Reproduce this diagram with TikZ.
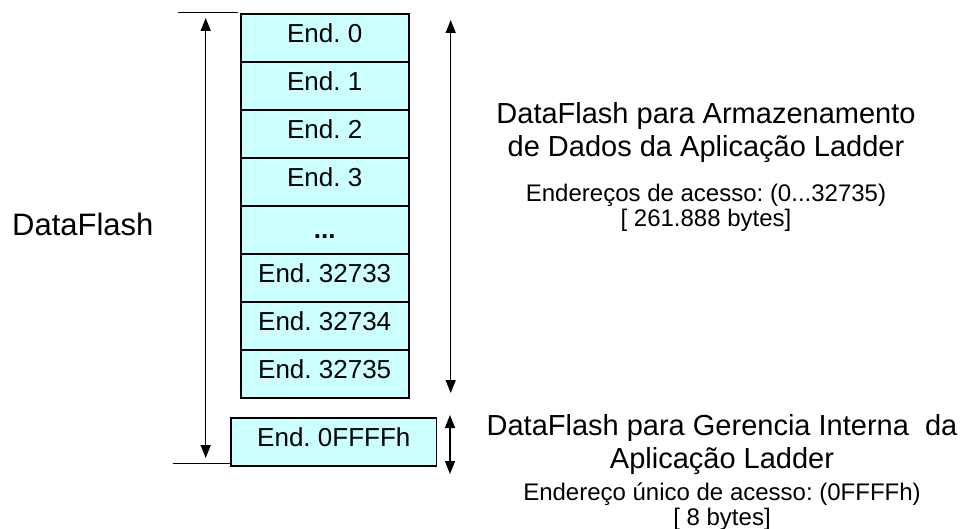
\documentclass[tikz,border=0pt]{standalone}
\usepackage{fontspec}
\setmainfont{Liberation Sans}
\usetikzlibrary{arrows.meta}
\definecolor{cellfill}{RGB}{204,255,255}
\frenchspacing
\begin{document}
\begin{tikzpicture}[x=1pt,y=-1pt,
 cell/.style={draw, line width=1.6pt, fill=cellfill, minimum width=168pt, minimum height=48pt,
   inner sep=0pt, text height=19pt, text depth=10pt, font=\fontsize{26}{30}\selectfont\frenchspacing},
 title/.style={anchor=base, inner sep=0pt, font=\fontsize{29}{33}\selectfont\frenchspacing},
 detail/.style={anchor=base, inner sep=0pt, font=\fontsize{24}{28}\selectfont\frenchspacing},
 dimarrow/.style={line width=1.5pt, {Triangle[width=10pt,length=13pt]}-{Triangle[width=10pt,length=13pt]}},
 rule/.style={line width=1.5pt}
]
\useasboundingbox (0,0) rectangle (966,529);

% memory cells
\node[cell] (c0) at (324.7,38)  {End. 0};
\node[cell] (c1) at (324.7,86)  {End. 1};
\node[cell] (c2) at (324.7,134) {End. 2};
\node[cell] (c3) at (324.7,182) {End. 3};
\node[cell, text height=19pt, text depth=1pt] (c4) at (324.7,230) {\textbf{...}};
\node[cell] (c5) at (324.7,278) {End. 32733};
\node[cell] (c6) at (324.7,326) {End. 32734};
\node[cell] (c7) at (324.7,374) {End. 32735};
\node[cell, minimum width=205.7pt] (cF) at (333.8,442) {End. 0FFFFh};

% left label
\node[anchor=base, inner sep=0pt, font=\fontsize{31}{35}\selectfont] (df) at (82.8,235.7) {DataFlash};

% left dimension
\coordinate (tl1) at (178,12.7);
\coordinate (tl2) at (238,12.7);
\coordinate (bl1) at (172.7,463.3);
\coordinate (bl2) at (cF.west |- bl1);
\coordinate (la1) at (205.7,18);
\coordinate (la2) at (205.7,458);
\draw[rule] (tl1) -- (tl2);
\draw[rule] (bl1) -- (bl2);
\draw[dimarrow] (la1) -- (la2);

% right dimensions
\coordinate (ra1) at (450.7,20);
\coordinate (ra2) at (450.7,393);
\coordinate (sa1) at (450,415);
\coordinate (sa2) at (450,474);
\draw[dimarrow] (ra1) -- (ra2);
\draw[dimarrow] (sa1) -- (sa2);

% upper description
\node[title] (ut1) at (706,123.3) {DataFlash para Armazenamento};
\node[title] (ut2) at (706,156.7) {de Dados da Aplicação Ladder};
\node[detail] (ud1) at (706,201.3) {Endereços de acesso: (0...32735)};
\node[detail] (ud2) at (706,226.3) {[ 261.888 bytes]};

% lower description
\node[title] (lt1) at (722,435) {DataFlash para Gerencia Interna\ \ da};
\node[title] (lt2) at (722,468) {Aplicação Ladder};
\node[detail] (ld1) at (722,500) {Endereço único de acesso: (0FFFFh)};
\node[detail] (ld2) at (722,525) {[ 8 bytes]};
\end{tikzpicture}
\end{document}
